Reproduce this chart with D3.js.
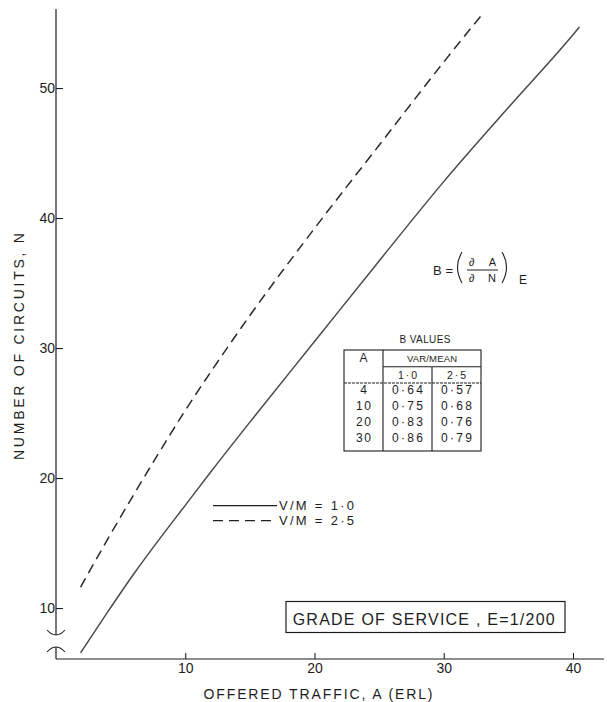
<!DOCTYPE html>
<html>
<head>
<meta charset="utf-8">
<script src="https://cdn.jsdelivr.net/npm/d3@7"></script>
<style>
  html, body { margin: 0; padding: 0; background: #fff; }
  svg { display: block; font-family: "Liberation Sans", Arial, sans-serif; }
</style>
</head>
<body>
<svg id="chart" width="607" height="702"></svg>
<script>
// Circuits needed against offered traffic, grade of service E = 1/200
const trafficSolid   = [1.9, 4, 6, 8, 10, 12, 15, 20, 25, 30, 35, 40, 40.5];
const circuitsSolid  = [6.55, 9.7, 12.6, 15.3, 17.9, 20.5, 24.3, 30.5, 36.7, 42.8, 48.5, 54.1, 54.7];
const trafficDashed  = [1.9, 4, 6, 8, 10, 12, 15, 20, 25, 30, 33];
const circuitsDashed = [11.6, 15.3, 18.7, 22.0, 25.2, 28.2, 32.5, 39.2, 45.6, 52.0, 55.7];

const xTicks = [10, 20, 30, 40];
const yTicks = [10, 20, 30, 40, 50];
const legendLabels = ["V/M = 1\u00B70", "V/M = 2\u00B75"];

// B values table
const tableA   = [4, 10, 20, 30];
const tableB10 = [0.64, 0.75, 0.83, 0.86];
const tableB25 = [0.57, 0.68, 0.76, 0.79];
const ratioLabels = [1.0, 2.5];

const ink = "#1e1e1e";
const svg = d3.select("#chart");

const x = d3.scaleLinear().domain([0, 42.4]).range([56, 604]);
const y = d3.scaleLinear().domain([6.08, 56.08]).range([659, 9]);
const dot = v => d3.format(".2f")(v).replace(".", "\u00B7");
const dot1 = v => d3.format(".1f")(v).replace(".", "\u00B7");

// axes
const xAxis = svg.append("g")
  .attr("transform", `translate(0,${y.range()[0]})`)
  .call(d3.axisBottom(x).tickValues(xTicks).tickSize(-6).tickPadding(4).tickSizeOuter(0));
const yAxis = svg.append("g")
  .attr("transform", `translate(${x.range()[0]},0)`)
  .call(d3.axisLeft(y).tickValues(yTicks).tickSize(-7).tickPadding(1).tickSizeOuter(0));
[xAxis, yAxis].forEach(g => {
  g.select(".domain").remove();
  g.selectAll(".tick line").attr("stroke", ink).attr("stroke-width", 1.1);
  g.selectAll(".tick text").attr("fill", ink).attr("font-size", 14)
    .attr("font-family", "'Liberation Sans', Arial, sans-serif");
});

// axis lines with a break near the origin of the circuits axis
const x0 = x.range()[0], yb = y.range()[0];
svg.append("path")
  .attr("d", `M${x0},${y.range()[1]}V635M${x0},647V${yb}M${x0},${yb}H${x.range()[1]}`)
  .attr("stroke", ink).attr("stroke-width", 1.2).attr("fill", "none");
svg.append("path")
  .attr("d", `M${x0 - 9},630Q${x0},640 ${x0 + 9},630M${x0 - 9},652Q${x0},642 ${x0 + 9},652`)
  .attr("stroke", ink).attr("stroke-width", 1.1).attr("fill", "none");

// axis titles
svg.append("text")
  .attr("x", 318).attr("y", 699)
  .attr("text-anchor", "middle").attr("font-size", 14).attr("fill", ink)
  .attr("textLength", 229).attr("lengthAdjust", "spacing")
  .text("OFFERED TRAFFIC, A (ERL)");
svg.append("text")
  .attr("transform", "translate(23.5,346.5) rotate(-90)")
  .attr("text-anchor", "middle").attr("font-size", 14).attr("fill", ink)
  .attr("textLength", 227).attr("lengthAdjust", "spacing")
  .text("NUMBER OF CIRCUITS, N");

// curves
const line = d3.line().x(d => x(d[0])).y(d => y(d[1])).curve(d3.curveMonotoneX);
svg.append("path")
  .datum(d3.zip(trafficSolid, circuitsSolid))
  .attr("d", line)
  .attr("fill", "none").attr("stroke", "#4a4a4a").attr("stroke-width", 1.5);
svg.append("path")
  .datum(d3.zip(trafficDashed, circuitsDashed))
  .attr("d", line)
  .attr("fill", "none").attr("stroke", "#2a2a2a").attr("stroke-width", 1.5)
  .attr("stroke-dasharray", "10,6");

// legend
const legend = svg.append("g");
legendLabels.forEach((lab, i) => {
  const ly = 505.7 + i * 15;
  legend.append("line")
    .attr("x1", 213).attr("x2", 277).attr("y1", ly).attr("y2", ly)
    .attr("stroke", ink).attr("stroke-width", 1.2)
    .attr("stroke-dasharray", i ? "10,6" : null);
  legend.append("text")
    .attr("x", 279).attr("y", ly + 4.5)
    .attr("font-size", 13).attr("fill", ink)
    .attr("textLength", 75).attr("lengthAdjust", "spacing")
    .text(lab);
});

// formula B = (dA/dN)_E
const f = svg.append("g").attr("fill", ink).attr("font-size", 13);
f.append("text").attr("x", 433).attr("y", 275)
  .attr("textLength", 20).attr("lengthAdjust", "spacing").text("B =");
f.append("path")
  .attr("d", "M462,252Q453,267 462,283M502,252Q511,267 502,283")
  .attr("stroke", ink).attr("stroke-width", 1.1).attr("fill", "none");
f.append("text").attr("x", 469).attr("y", 266)
  .attr("font-size", 11).attr("textLength", 27).attr("lengthAdjust", "spacing").text("\u2202 A");
f.append("line").attr("x1", 467).attr("x2", 498).attr("y1", 270).attr("y2", 270)
  .attr("stroke", ink).attr("stroke-width", 1);
f.append("text").attr("x", 469).attr("y", 282)
  .attr("font-size", 11).attr("textLength", 27).attr("lengthAdjust", "spacing").text("\u2202 N");
f.append("text").attr("x", 519).attr("y", 284).attr("font-size", 12).text("E");

// table of B values
const t = svg.append("g").attr("fill", ink);
const tl = 344, tr = 481, tc1 = 383, tc2 = 432, tt = 350, tb = 451;
t.append("text").attr("x", 425).attr("y", 343)
  .attr("text-anchor", "middle").attr("font-size", 10)
  .attr("textLength", 51).attr("lengthAdjust", "spacing").text("B VALUES");
t.append("rect").attr("x", tl).attr("y", tt).attr("width", tr - tl).attr("height", tb - tt)
  .attr("fill", "none").attr("stroke", ink).attr("stroke-width", 1.1);
t.append("path")
  .attr("d", `M${tc1},${tt}V${tb}M${tc1},366.7H${tr}M${tc2},366.7V${tb}`)
  .attr("stroke", ink).attr("stroke-width", 1.1).attr("fill", "none");
t.append("line").attr("x1", tl).attr("x2", tr).attr("y1", 383).attr("y2", 383)
  .attr("stroke", ink).attr("stroke-width", 1).attr("stroke-dasharray", "3,1");
t.append("text").attr("x", (tl + tc1) / 2).attr("y", 362)
  .attr("text-anchor", "middle").attr("font-size", 12).text("A");
t.append("text").attr("x", (tc1 + tr) / 2).attr("y", 362)
  .attr("text-anchor", "middle").attr("font-size", 9.5)
  .attr("textLength", 50).attr("lengthAdjust", "spacing").text("VAR/MEAN");
ratioLabels.forEach((r, i) => {
  t.append("text").attr("x", i ? (tc2 + tr) / 2 : (tc1 + tc2) / 2).attr("y", 378.5)
    .attr("text-anchor", "middle").attr("font-size", 10.5)
    .attr("textLength", 19).attr("lengthAdjust", "spacing").text(dot1(r));
});
tableA.forEach((a, i) => {
  const by = 394 + i * 16;
  t.append("text").attr("x", (tl + tc1) / 2).attr("y", by)
    .attr("text-anchor", "middle").attr("font-size", 12)
    .attr("textLength", a < 10 ? null : 15).attr("lengthAdjust", "spacing").text(a);
  t.append("text").attr("x", (tc1 + tc2) / 2).attr("y", by)
    .attr("text-anchor", "middle").attr("font-size", 12)
    .attr("textLength", 31).attr("lengthAdjust", "spacing").text(dot(tableB10[i]));
  t.append("text").attr("x", (tc2 + tr) / 2).attr("y", by)
    .attr("text-anchor", "middle").attr("font-size", 12)
    .attr("textLength", 31).attr("lengthAdjust", "spacing").text(dot(tableB25[i]));
});

// grade of service box
svg.append("rect").attr("x", 286).attr("y", 601.5).attr("width", 279).attr("height", 31)
  .attr("fill", "none").attr("stroke", ink).attr("stroke-width", 1.2);
svg.append("text").attr("x", 292.7).attr("y", 624.5)
  .attr("font-size", 16).attr("fill", ink)
  .attr("textLength", 262).attr("lengthAdjust", "spacing")
  .text("GRADE OF SERVICE , E=1/200");
</script>
</body>
</html>
